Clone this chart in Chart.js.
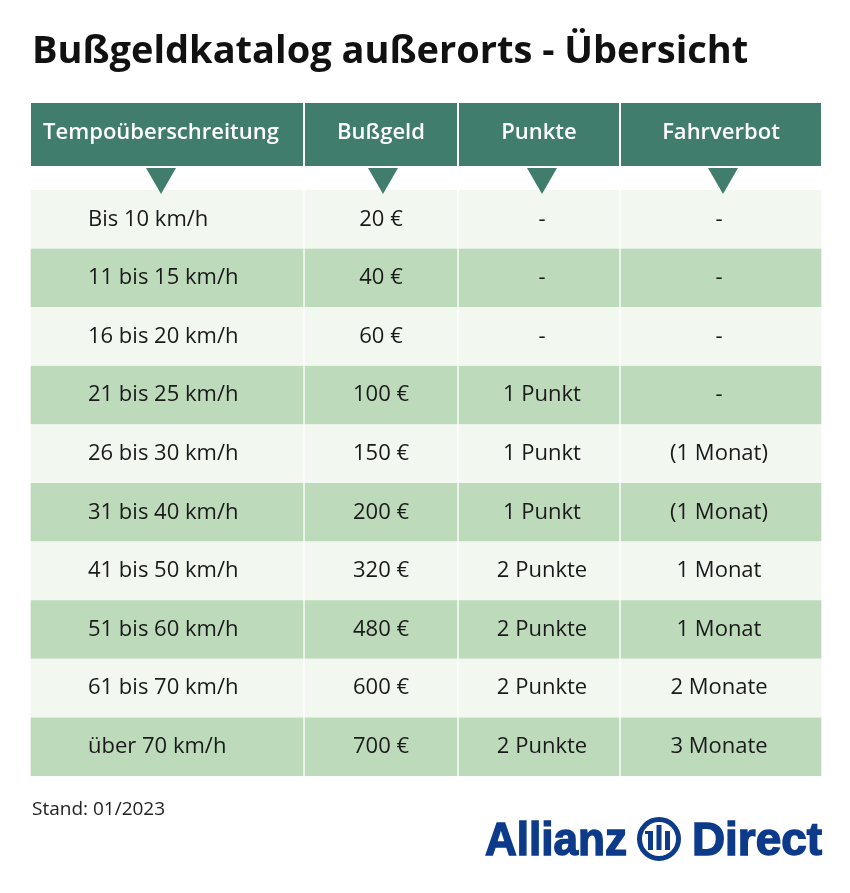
<!DOCTYPE html>
<html>
<head>
<meta charset="utf-8">
<script src="https://cdn.jsdelivr.net/npm/chart.js@4/dist/chart.umd.min.js"></script>
<style>
  body { margin: 0; background: #fff; }
  canvas { display: block; }
</style>
</head>
<body>
<canvas id="table" width="850" height="893"></canvas>
<script>
// data
const columns = ["Tempoüberschreitung", "Bußgeld", "Punkte", "Fahrverbot"];
const speedBands = [
    "Bis 10 km/h",
    "11 bis 15 km/h",
    "16 bis 20 km/h",
    "21 bis 25 km/h",
    "26 bis 30 km/h",
    "31 bis 40 km/h",
    "41 bis 50 km/h",
    "51 bis 60 km/h",
    "61 bis 70 km/h",
    "über 70 km/h",
];
const fines = [20, 40, 60, 100, 150, 200, 320, 480, 600, 700];
const points = [0, 0, 0, 1, 1, 1, 2, 2, 2, 2];
const drivingBans = ["-", "-", "-", "-", "(1 Monat)", "(1 Monat)", "1 Monat", "1 Monat", "2 Monate", "3 Monate"];

// layout
const colWidths = [274, 154, 162, 202];
const edges = [0];
colWidths.forEach(w => edges.push(edges[edges.length - 1] + w));
const textShift = [0, 0, 3, -2];   // small nudges of centred text per column

const HEADER = "#417d6c";
const LIGHT = "#f2f7f0";
const GREEN = "#bddbbb";
const TEXT = "#1a1a1a";
const FONT = "'Open Sans', 'DejaVu Sans', sans-serif";

const pointsLabel = p => p === 0 ? "-" : (p === 1 ? "1 Punkt" : p + " Punkte");
const cellText = (c, i) => {
    if (c === 0) return speedBands[i];
    if (c === 1) return fines[i] + " €";
    if (c === 2) return pointsLabel(points[i]);
    return drivingBans[i];
};

const datasets = columns.map((name, c) => ({
    label: name,
    data: speedBands.map(() => [edges[c], edges[c + 1]]),
    backgroundColor: speedBands.map((s, i) => i % 2 === 0 ? LIGHT : GREEN),
    borderColor: "#ffffff",
    borderWidth: { left: 1, right: 1, top: 0, bottom: 0 },
    borderSkipped: false,
    grouped: false,
    barPercentage: 1,
    categoryPercentage: 1,
}));

const tablePlugin = {
    id: "tableText",
    afterDraw(chart) {
        const ctx = chart.ctx;
        const x = chart.scales.x;
        const y = chart.scales.y;
        ctx.save();

        // title
        ctx.fillStyle = "#111";
        ctx.font = "bold 38px " + FONT;
        ctx.textAlign = "left";
        ctx.textBaseline = "alphabetic";
        ctx.fillText("Bußgeldkatalog außerorts - Übersicht", 32, 63, 718);

        // header cells + arrows
        columns.forEach((name, c) => {
            const x0 = x.getPixelForValue(edges[c]) + 1;
            const x1 = x.getPixelForValue(edges[c + 1]) - 1;
            ctx.fillStyle = HEADER;
            ctx.fillRect(x0, 103, x1 - x0, 63);
            const cx = (x0 + x1) / 2 + (c === 0 ? -6 : (c === 2 ? 3 : 2));
            ctx.beginPath();
            ctx.moveTo(cx - 15, 168);
            ctx.lineTo(cx + 15, 168);
            ctx.lineTo(cx, 194);
            ctx.closePath();
            ctx.fill();
            ctx.fillStyle = "#ffffff";
            ctx.font = "600 22px " + FONT;
            ctx.textAlign = "center";
            ctx.textBaseline = "middle";
            ctx.fillText(name, (x0 + x1) / 2 - (c === 0 ? 6 : 0), 133, x1 - x0 - 20);
        });

        // body text
        ctx.fillStyle = TEXT;
        ctx.font = "22px " + FONT;
        ctx.textBaseline = "middle";
        speedBands.forEach((s, i) => {
            const cy = y.getPixelForValue(i);
            columns.forEach((name, c) => {
                const x0 = x.getPixelForValue(edges[c]);
                const x1 = x.getPixelForValue(edges[c + 1]);
                if (c === 0) {
                    ctx.textAlign = "left";
                    ctx.fillText(cellText(c, i), x0 + 58, cy);
                } else {
                    ctx.textAlign = "center";
                    ctx.fillText(cellText(c, i), (x0 + x1) / 2 + textShift[c], cy);
                }
            });
        });

        // footer
        ctx.textAlign = "left";
        ctx.textBaseline = "alphabetic";
        ctx.font = "19px " + FONT;
        ctx.fillStyle = "#222";
        ctx.fillText("Stand: 01/2023", 32, 815, 140);

        // logo
        const blue = "#0d3b8a";
        ctx.fillStyle = blue;
        ctx.strokeStyle = blue;
        ctx.lineWidth = 1.5;
        ctx.font = "bold 46px 'Liberation Sans', Arial, sans-serif";
        ctx.fillText("Allianz", 485, 855, 142);
        ctx.strokeText("Allianz", 485, 855, 142);
        ctx.fillText("Direct", 692, 855, 130);
        ctx.strokeText("Direct", 692, 855, 130);
        ctx.lineWidth = 5;
        ctx.beginPath();
        ctx.arc(659, 839, 19.5, 0, Math.PI * 2);
        ctx.stroke();
        ctx.fillRect(648, 831, 5, 19);
        ctx.fillRect(656.5, 825, 5, 25);
        ctx.fillRect(665, 831, 5, 19);
        ctx.fillRect(645, 831, 5, 3);

        ctx.restore();
    }
};

new Chart(document.getElementById("table").getContext("2d"), {
    type: "bar",
    data: { labels: speedBands, datasets },
    options: {
        indexAxis: "y",
        responsive: false,
        animation: false,
        layout: { padding: { left: 30, right: 28, top: 190, bottom: 117 } },
        plugins: {
            legend: { display: false },
            tooltip: { enabled: false },
        },
        scales: {
            x: { type: "linear", min: 0, max: edges[edges.length - 1], display: false },
            y: { display: false, grid: { display: false } },
        },
    },
    plugins: [tablePlugin],
});
</script>
</body>
</html>
